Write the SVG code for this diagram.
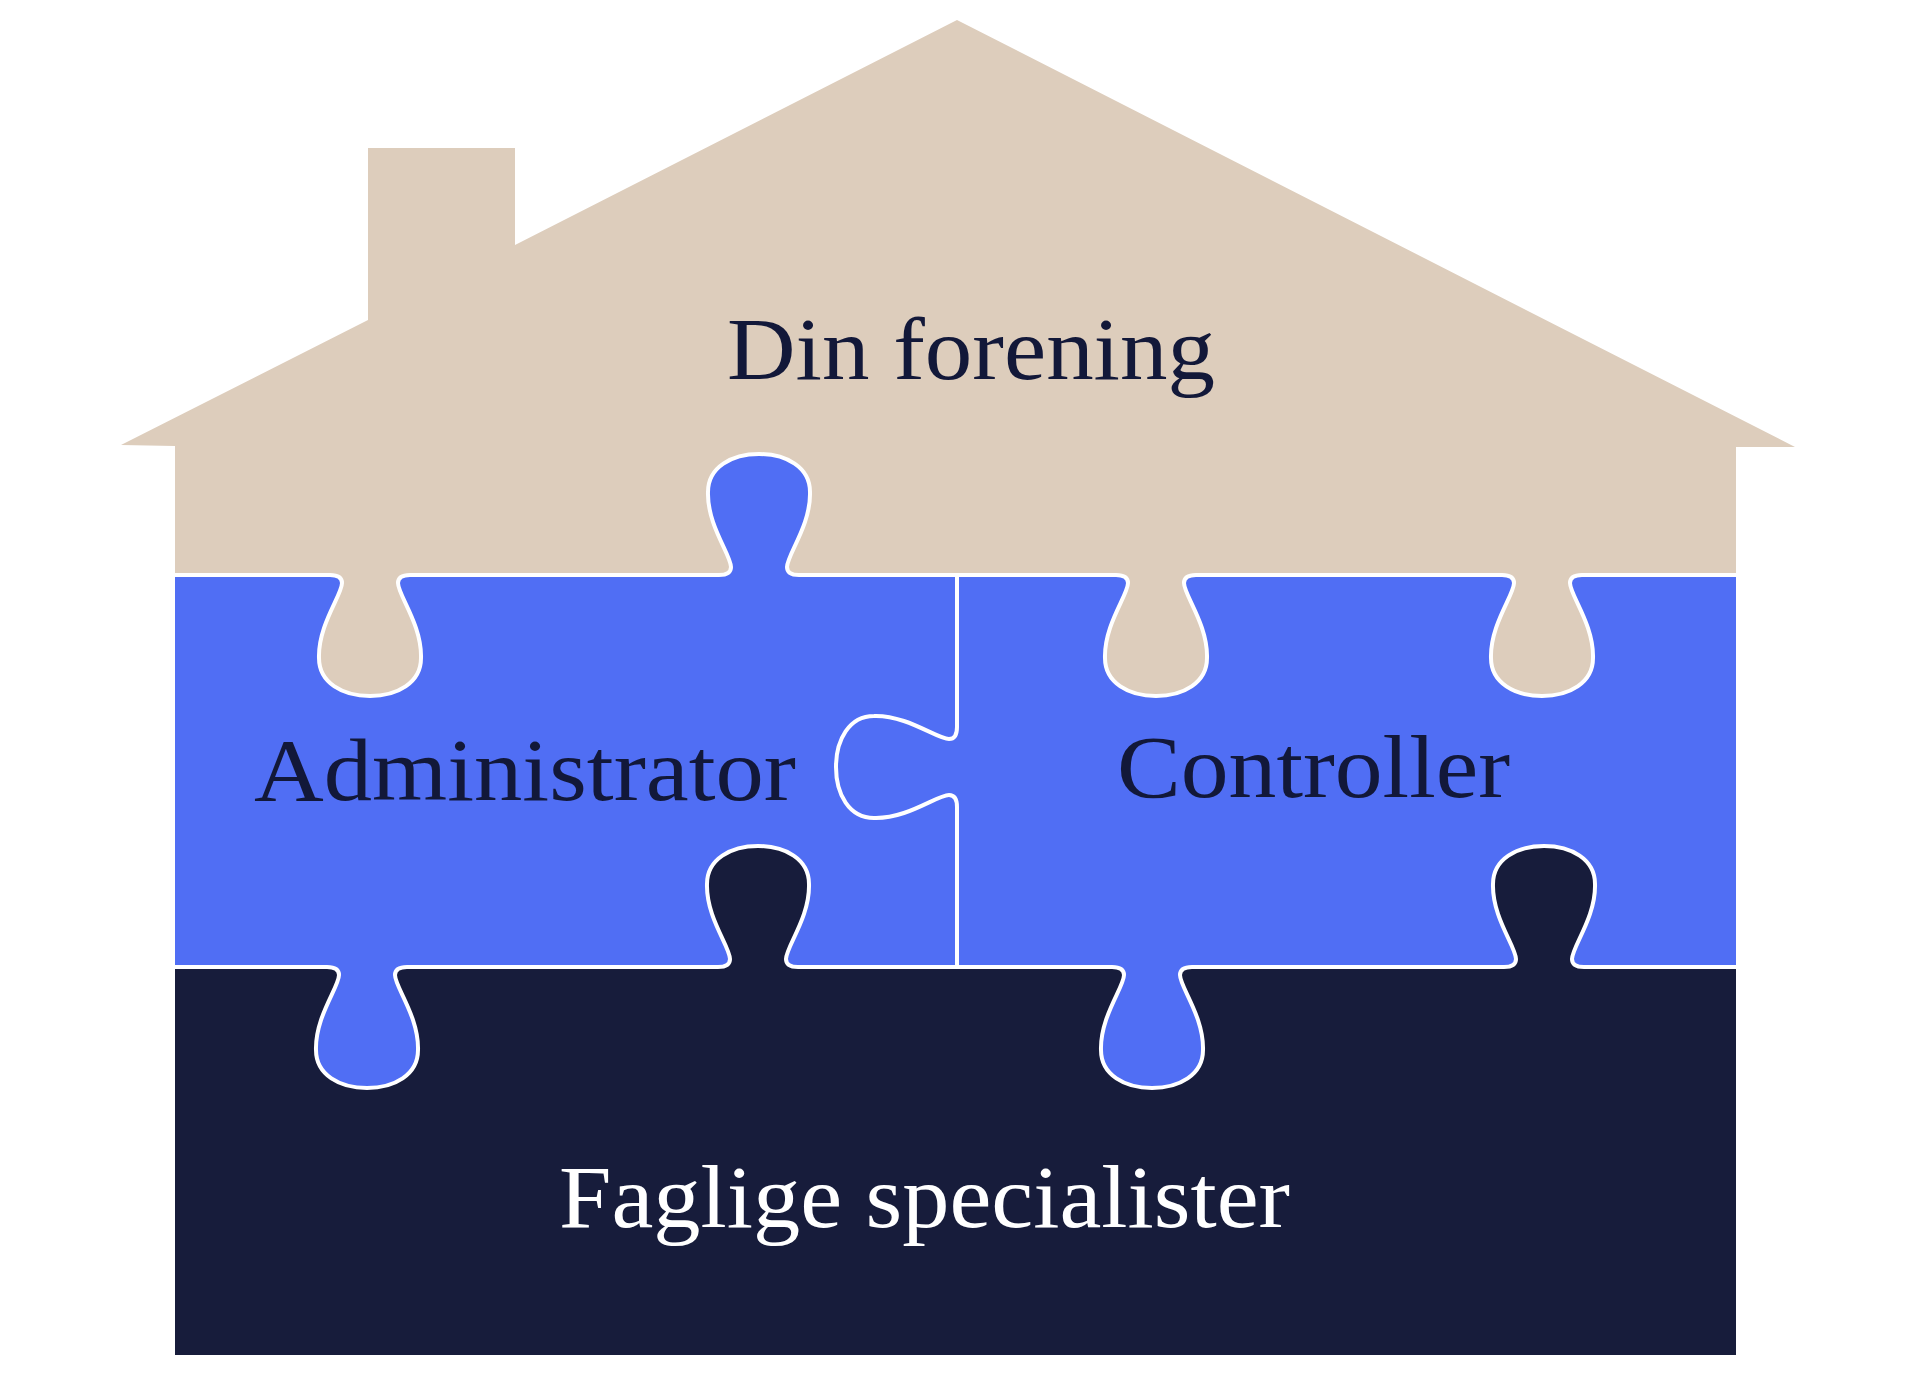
<svg xmlns="http://www.w3.org/2000/svg" width="1920" height="1377" viewBox="0 0 1920 1377">
<style>
.beige{fill:#ddcdbc}
.blue{fill:#506ef4}
.navy{fill:#171c3b}
.seam{fill:none;stroke:#ffffff;stroke-width:4;stroke-linejoin:round}
.lbl{font-family:"Liberation Serif","DejaVu Serif",serif;font-size:88px}
.dark{fill:#121839}
.light{fill:#ffffff}
</style>
<rect width="1920" height="1377" fill="#ffffff"/>
<g id="din-forening">
<path class="beige" d="M 175,575 L 330,575 Q 342,575 342,583 C 342,595 318,625 319,658 C 319,683 343,696 370,696 C 397,696 421,683 421,658 C 422,625 398,595 398,583 Q 398,575 410,575 L 719,575 Q 731,575 731,567 C 731,555 707,525 708,492 C 708,467 732,454 759,454 C 786,454 810,467 810,492 C 811,525 787,555 787,567 Q 787,575 799,575 L 1116,575 Q 1128,575 1128,583 C 1128,595 1104,625 1105,658 C 1105,683 1129,696 1156,696 C 1183,696 1207,683 1207,658 C 1208,625 1184,595 1184,583 Q 1184,575 1196,575 L 1502,575 Q 1514,575 1514,583 C 1514,595 1490,625 1491,658 C 1491,683 1515,696 1542,696 C 1569,696 1593,683 1593,658 C 1594,625 1570,595 1570,583 Q 1570,575 1582,575 L 1736,575 L 1736,447 L 1795,447 L 957,20 L 515,245 L 515,148 L 368,148 L 368,320 L 121,445 L 175,446 Z"/>
<text class="lbl dark" x="727" y="379" textLength="488" lengthAdjust="spacingAndGlyphs">Din forening</text>
</g>
<g id="administrator">
<path class="blue" d="M 175,575 L 330,575 Q 342,575 342,583 C 342,595 318,625 319,658 C 319,683 343,696 370,696 C 397,696 421,683 421,658 C 422,625 398,595 398,583 Q 398,575 410,575 L 719,575 Q 731,575 731,567 C 731,555 707,525 708,492 C 708,467 732,454 759,454 C 786,454 810,467 810,492 C 811,525 787,555 787,567 Q 787,575 799,575 L 957,575 L 957,727 Q 957,739 949,739 C 937,739 907,715 874,716 C 849,716 836,740 836,767 C 836,794 849,818 874,818 C 907,819 937,795 949,795 Q 957,795 957,807 L 957,967 L 798,967 Q 786,967 786,959 C 786,947 810,917 809,884 C 809,859 785,846 758,846 C 731,846 707,859 707,884 C 706,917 730,947 730,959 Q 730,967 718,967 L 407,967 Q 395,967 395,975 C 395,987 419,1017 418,1050 C 418,1075 394,1088 367,1088 C 340,1088 316,1075 316,1050 C 315,1017 339,987 339,975 Q 339,967 327,967 L 175,967 Z"/>
<text class="lbl dark" x="254" y="800" textLength="542" lengthAdjust="spacingAndGlyphs">Administrator</text>
</g>
<g id="controller">
<path class="blue" d="M 957,575 L 1116,575 Q 1128,575 1128,583 C 1128,595 1104,625 1105,658 C 1105,683 1129,696 1156,696 C 1183,696 1207,683 1207,658 C 1208,625 1184,595 1184,583 Q 1184,575 1196,575 L 1502,575 Q 1514,575 1514,583 C 1514,595 1490,625 1491,658 C 1491,683 1515,696 1542,696 C 1569,696 1593,683 1593,658 C 1594,625 1570,595 1570,583 Q 1570,575 1582,575 L 1736,575 L 1736,967 L 1584,967 Q 1572,967 1572,959 C 1572,947 1596,917 1595,884 C 1595,859 1571,846 1544,846 C 1517,846 1493,859 1493,884 C 1492,917 1516,947 1516,959 Q 1516,967 1504,967 L 1192,967 Q 1180,967 1180,975 C 1180,987 1204,1017 1203,1050 C 1203,1075 1179,1088 1152,1088 C 1125,1088 1101,1075 1101,1050 C 1100,1017 1124,987 1124,975 Q 1124,967 1112,967 L 957,967 L 957,807 Q 957,795 949,795 C 937,795 907,819 874,818 C 849,818 836,794 836,767 C 836,740 849,716 874,716 C 907,715 937,739 949,739 Q 957,739 957,727 Z"/>
<text class="lbl dark" x="1117" y="797" textLength="393" lengthAdjust="spacingAndGlyphs">Controller</text>
</g>
<g id="faglige-specialister">
<path class="navy" d="M 175,967 L 327,967 Q 339,967 339,975 C 339,987 315,1017 316,1050 C 316,1075 340,1088 367,1088 C 394,1088 418,1075 418,1050 C 419,1017 395,987 395,975 Q 395,967 407,967 L 718,967 Q 730,967 730,959 C 730,947 706,917 707,884 C 707,859 731,846 758,846 C 785,846 809,859 809,884 C 810,917 786,947 786,959 Q 786,967 798,967 L 1112,967 Q 1124,967 1124,975 C 1124,987 1100,1017 1101,1050 C 1101,1075 1125,1088 1152,1088 C 1179,1088 1203,1075 1203,1050 C 1204,1017 1180,987 1180,975 Q 1180,967 1192,967 L 1504,967 Q 1516,967 1516,959 C 1516,947 1492,917 1493,884 C 1493,859 1517,846 1544,846 C 1571,846 1595,859 1595,884 C 1596,917 1572,947 1572,959 Q 1572,967 1584,967 L 1736,967 L 1736,1355 L 175,1355 Z"/>
<text class="lbl light" x="559" y="1227" textLength="731" lengthAdjust="spacingAndGlyphs">Faglige specialister</text>
</g>
<g id="seams">
<path class="seam" d="M 175,575 L 330,575 Q 342,575 342,583 C 342,595 318,625 319,658 C 319,683 343,696 370,696 C 397,696 421,683 421,658 C 422,625 398,595 398,583 Q 398,575 410,575 L 719,575 Q 731,575 731,567 C 731,555 707,525 708,492 C 708,467 732,454 759,454 C 786,454 810,467 810,492 C 811,525 787,555 787,567 Q 787,575 799,575 L 1116,575 Q 1128,575 1128,583 C 1128,595 1104,625 1105,658 C 1105,683 1129,696 1156,696 C 1183,696 1207,683 1207,658 C 1208,625 1184,595 1184,583 Q 1184,575 1196,575 L 1502,575 Q 1514,575 1514,583 C 1514,595 1490,625 1491,658 C 1491,683 1515,696 1542,696 C 1569,696 1593,683 1593,658 C 1594,625 1570,595 1570,583 Q 1570,575 1582,575 L 1736,575"/>
<path class="seam" d="M 175,967 L 327,967 Q 339,967 339,975 C 339,987 315,1017 316,1050 C 316,1075 340,1088 367,1088 C 394,1088 418,1075 418,1050 C 419,1017 395,987 395,975 Q 395,967 407,967 L 718,967 Q 730,967 730,959 C 730,947 706,917 707,884 C 707,859 731,846 758,846 C 785,846 809,859 809,884 C 810,917 786,947 786,959 Q 786,967 798,967 L 1112,967 Q 1124,967 1124,975 C 1124,987 1100,1017 1101,1050 C 1101,1075 1125,1088 1152,1088 C 1179,1088 1203,1075 1203,1050 C 1204,1017 1180,987 1180,975 Q 1180,967 1192,967 L 1504,967 Q 1516,967 1516,959 C 1516,947 1492,917 1493,884 C 1493,859 1517,846 1544,846 C 1571,846 1595,859 1595,884 C 1596,917 1572,947 1572,959 Q 1572,967 1584,967 L 1736,967"/>
<path class="seam" d="M 957,575 L 957,727 Q 957,739 949,739 C 937,739 907,715 874,716 C 849,716 836,740 836,767 C 836,794 849,818 874,818 C 907,819 937,795 949,795 Q 957,795 957,807 L 957,967"/>
</g>
</svg>
